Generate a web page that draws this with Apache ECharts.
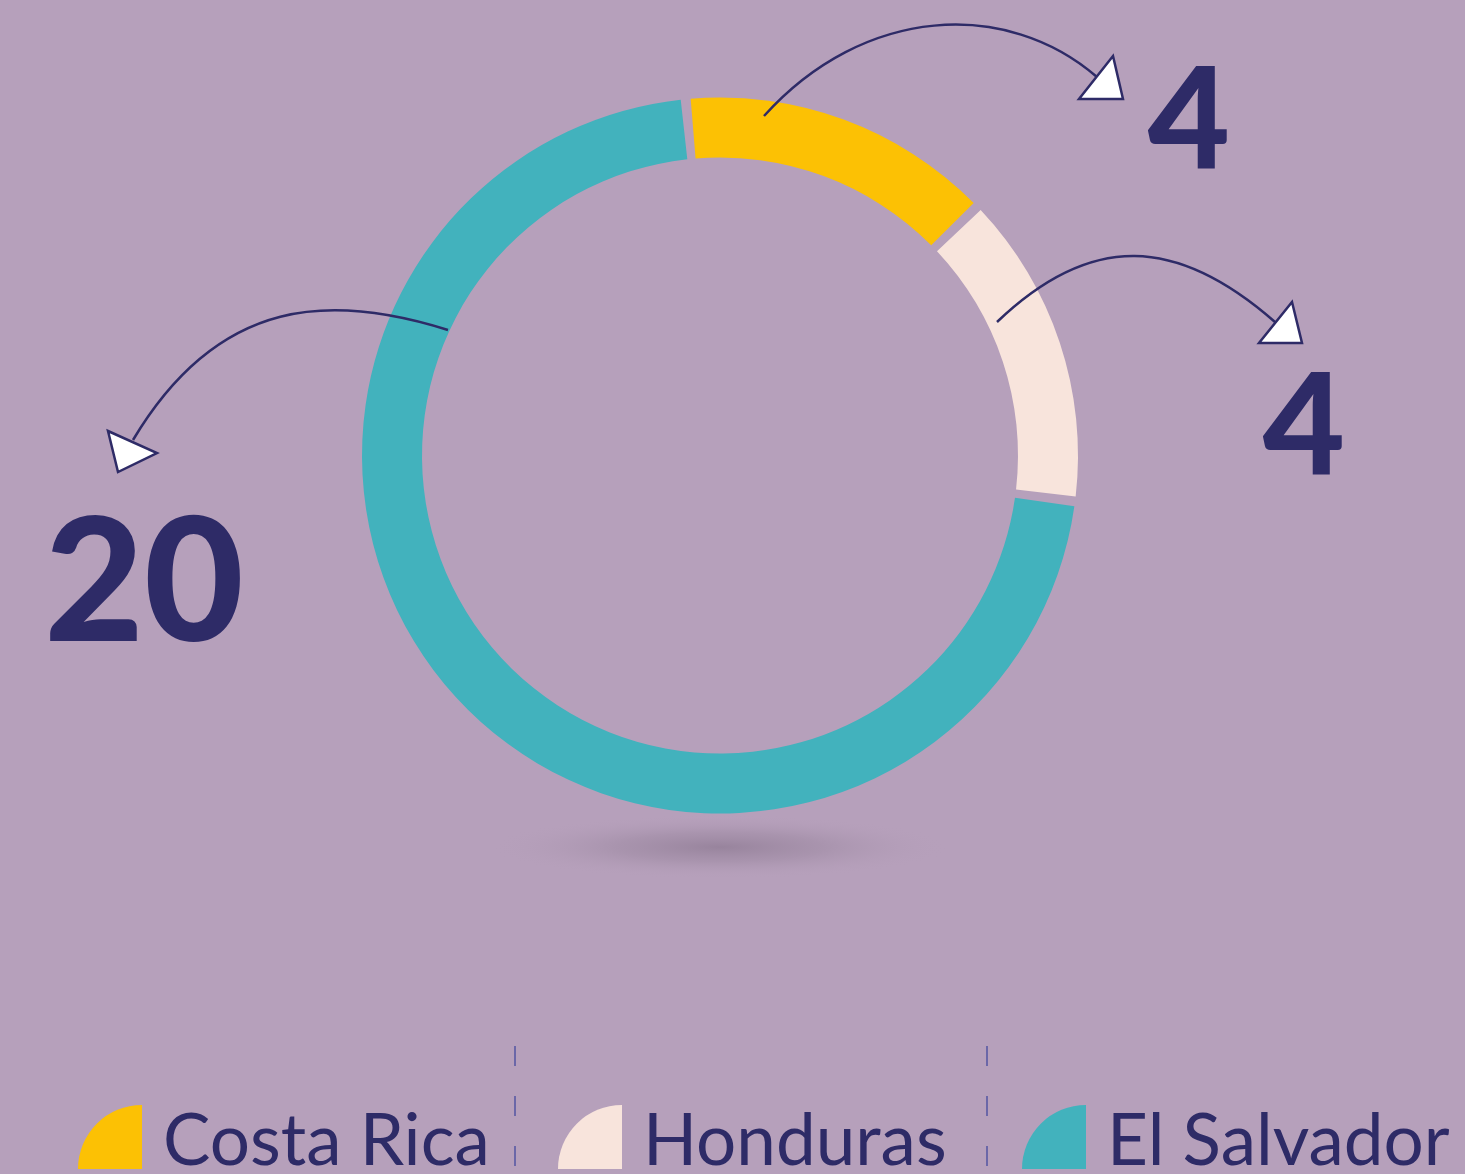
<!DOCTYPE html>
<html>
<head>
<meta charset="utf-8">
<title>Costa Rica, Honduras, El Salvador</title>
<script src="https://cdn.jsdelivr.net/npm/echarts@6/dist/echarts.min.js"></script>
<style>
  html, body { margin: 0; padding: 0; background: #b6a0bb; }
  #chart { width: 1465px; height: 1174px; }
</style>
</head>
<body>
<div id="chart"></div>
<script>
// data
var countries = ["Costa Rica", "Honduras", "El Salvador"];
var counts = [4, 4, 20];
var colors = ["#fcc104", "#f8e4dc", "#42b2bd"];

var navy = "#2e2b67";

var chartDom = document.getElementById("chart");
var myChart = echarts.init(chartDom);
var option;

// where each big number sits (label centre) and its size
var labelSpots = [
  { x: 1189, y: 122, size: 142 },
  { x: 1304, y: 428, size: 142 },
  { x: 144, y: 586, size: 172 }
];

// curved arrows: bezier + triangle head
var arrows = [
  { c: [764, 116, 864, 5, 1007, -1, 1097, 77], head: [[1113, 56], [1123, 99], [1079, 99]] },
  { c: [997, 322, 1091, 232, 1177, 236, 1275, 322], head: [[1292, 302], [1302, 343], [1259, 343]] },
  { c: [448, 330, 334, 294, 220, 294, 133, 440], head: [[108, 431], [157, 453], [118, 472]] }
];

var graphics = [];

// soft shadow under the ring
graphics.push({
  type: "circle",
  x: 720,
  y: 847,
  scaleX: 7.2,
  scaleY: 1,
  z: 0,
  silent: true,
  shape: { cx: 0, cy: 0, r: 32 },
  style: {
    fill: {
      type: "radial", x: 0.5, y: 0.5, r: 0.5,
      colorStops: [
        { offset: 0, color: "rgba(150,130,155,0.95)" },
        { offset: 0.45, color: "rgba(160,140,165,0.6)" },
        { offset: 1, color: "rgba(182,160,187,0)" }
      ]
    }
  }
});

arrows.forEach(function (a) {
  graphics.push({
    type: "bezierCurve",
    z: 100,
    silent: true,
    shape: { x1: a.c[0], y1: a.c[1], cpx1: a.c[2], cpy1: a.c[3], cpx2: a.c[4], cpy2: a.c[5], x2: a.c[6], y2: a.c[7] },
    style: { stroke: navy, lineWidth: 2.5, fill: null }
  });
  graphics.push({
    type: "polygon",
    z: 101,
    silent: true,
    shape: { points: a.head },
    style: { fill: "#ffffff", stroke: navy, lineWidth: 2.5 }
  });
});

// dashed separators in the legend row
[515, 987].forEach(function (x) {
  graphics.push({
    type: "line",
    z: 10,
    silent: true,
    shape: { x1: x, y1: 1046, x2: x, y2: 1168 },
    style: { stroke: "#6b67a8", lineWidth: 2, lineDash: [20, 30] }
  });
});

var quarterIcon = "path://M0,64A64,64,0,0,1,64,0L64,64Z";
var legendLeft = [78, 558, 1022];

option = {
  backgroundColor: "#b6a0bb",
  color: colors,
  legend: countries.map(function (name, i) {
    return {
      data: [name],
      left: legendLeft[i],
      top: 1096,
      icon: quarterIcon,
      itemWidth: 64,
      itemHeight: 64,
      itemGap: 0,
      padding: 0,
      selectedMode: false,
      formatter: "{n|{name}}",
      textStyle: {
        color: navy,
        fontFamily: "Lato",
        fontSize: 71,
        rich: {
          n: {
            color: navy,
            fontFamily: "Lato",
            fontSize: 71,
            lineHeight: 64,
            padding: [11, 0, 0, 16]
          }
        }
      }
    };
  }),
  graphic: graphics,
  series: [
    {
      type: "pie",
      center: [720, 455.5],
      radius: [298, 358],
      startAngle: 95.5,
      padAngle: 1.6,
      silent: true,
      emphasis: { disabled: true },
      data: countries.map(function (name, i) {
        return { name: name, value: counts[i] };
      }),
      label: {
        show: true,
        formatter: "{c}",
        color: navy,
        fontFamily: "Lato",
        fontWeight: 900
      },
      labelLine: { show: false },
      labelLayout: function (params) {
        var s = labelSpots[params.dataIndex];
        return { x: s.x, y: s.y, align: "center", verticalAlign: "middle", fontSize: s.size };
      }
    }
  ]
};

option && myChart.setOption(option);
</script>
</body>
</html>
